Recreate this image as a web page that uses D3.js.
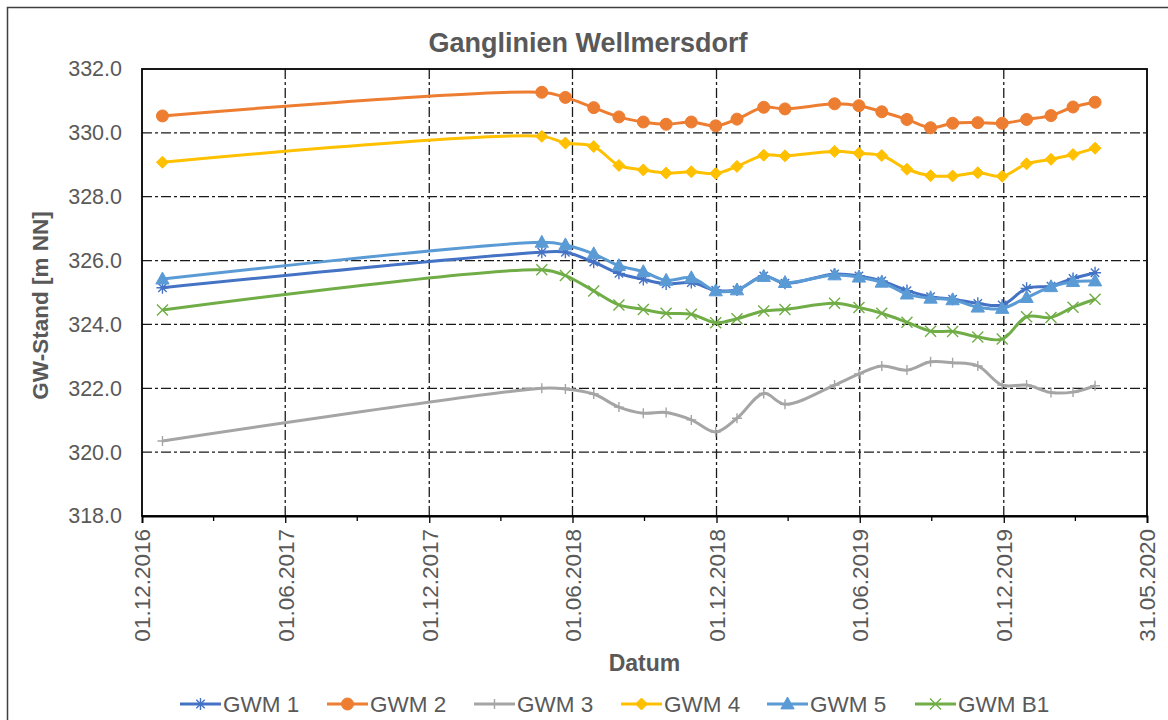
<!DOCTYPE html>
<html>
<head>
<meta charset="utf-8">
<script src="https://cdn.jsdelivr.net/npm/d3@7"></script>
<style>
  body { margin: 0; background: #fff; }
  text { font-family: "Liberation Sans", Arial, sans-serif; }
</style>
</head>
<body>
<div id="chart"></div>
<script>
// measurement dates
const dates = ["2016-12-27", "2018-04-23", "2018-05-23", "2018-06-28", "2018-07-30", "2018-08-30",
    "2018-09-28", "2018-10-30", "2018-11-30", "2018-12-27", "2019-01-30", "2019-02-26",
    "2019-04-30", "2019-05-31", "2019-06-29", "2019-07-31", "2019-08-30", "2019-09-27",
    "2019-10-29", "2019-11-29", "2019-12-30", "2020-01-30", "2020-02-27", "2020-03-26"];

const gwm1 = [325.15, 326.26, 326.26, 325.95, 325.60, 325.41, 325.27, 325.31, 325.07, 325.08, 325.52, 325.29,
    325.58, 325.52, 325.36, 325.06, 324.87, 324.79, 324.66, 324.61, 325.13, 325.20, 325.44, 325.62];
const gwm2 = [330.53, 331.27, 331.11, 330.79, 330.50, 330.34, 330.27, 330.34, 330.22, 330.43, 330.80, 330.75,
    330.91, 330.85, 330.66, 330.42, 330.16, 330.30, 330.32, 330.30, 330.42, 330.54, 330.81, 330.96];
const gwm3 = [320.35, 322.00, 321.98, 321.82, 321.41, 321.22, 321.24, 321.01, 320.63, 321.06, 321.84, 321.50,
    322.10, 322.45, 322.70, 322.57, 322.83, 322.80, 322.70, 322.10, 322.10, 321.87, 321.88, 322.08];
const gwm4 = [329.08, 329.89, 329.68, 329.57, 328.98, 328.84, 328.74, 328.78, 328.73, 328.95, 329.30, 329.28,
    329.42, 329.36, 329.29, 328.86, 328.66, 328.65, 328.75, 328.64, 329.03, 329.17, 329.32, 329.52];
const gwm5 = [325.42, 326.57, 326.49, 326.21, 325.84, 325.65, 325.38, 325.46, 325.05, 325.08, 325.50, 325.31,
    325.55, 325.48, 325.32, 324.95, 324.82, 324.77, 324.54, 324.50, 324.84, 325.18, 325.34, 325.36];
const gwmB1 = [324.45, 325.71, 325.53, 325.05, 324.61, 324.47, 324.35, 324.32, 324.05, 324.18, 324.42, 324.47,
    324.66, 324.53, 324.35, 324.07, 323.79, 323.78, 323.61, 323.54, 324.24, 324.22, 324.54, 324.79];

const seriesNames = ["GWM 1", "GWM 2", "GWM 3", "GWM 4", "GWM 5", "GWM B1"];
const seriesValues = [gwm1, gwm2, gwm3, gwm4, gwm5, gwmB1];
const seriesColors = ["#4472C4", "#ED7D31", "#A5A5A5", "#FFC000", "#5B9BD5", "#70AD47"];
const seriesMarkers = ["star", "circle", "plus", "diamond", "triangle", "cross"];

const xDomain = ["2016-12-01", "2020-05-31"];
const xTicks = ["2016-12-01", "2017-06-01", "2017-12-01", "2018-06-01", "2018-12-01", "2019-06-01", "2019-12-01", "2020-05-31"];
const yTicks = [318, 320, 322, 324, 326, 328, 330, 332];

const W = 1168, H = 720;
const margin = { top: 69, right: 21, bottom: 204, left: 142 };
const width = W - margin.left - margin.right;
const height = H - margin.top - margin.bottom;
const parse = d3.timeParse("%Y-%m-%d");
const fmt = d3.timeFormat("%d.%m.%Y");
const textColor = "#595959";

const svg = d3.select("#chart").append("svg")
    .attr("width", W)
    .attr("height", H);

// outer chart frame
svg.append("rect")
    .attr("x", 7.5).attr("y", 7.5)
    .attr("width", 1300).attr("height", 900)
    .attr("fill", "none")
    .attr("stroke", "#3f3f3f")
    .attr("stroke-width", 1.5);

const g = svg.append("g")
    .attr("transform", "translate(" + margin.left + "," + margin.top + ")");

const x = d3.scaleTime()
    .domain(xDomain.map(parse))
    .range([0, width]);

const y = d3.scaleLinear()
    .domain([318, 332])
    .range([height, 0]);

// grid lines
g.append("g").selectAll("line.hgrid")
    .data(yTicks.slice(1, -1))
    .enter().append("line")
    .attr("x1", 0).attr("x2", width)
    .attr("y1", d => y(d)).attr("y2", d => y(d))
    .attr("stroke", "#1a1a1a")
    .attr("stroke-width", 1.3)
    .attr("stroke-dasharray", "10,3,3,3");

g.append("g").selectAll("line.vgrid")
    .data(xTicks.slice(1, -1).map(parse))
    .enter().append("line")
    .attr("x1", d => x(d)).attr("x2", d => x(d))
    .attr("y1", 0).attr("y2", height)
    .attr("stroke", "#1a1a1a")
    .attr("stroke-width", 1.3)
    .attr("stroke-dasharray", "10,3,3,3");

// plot border
g.append("rect")
    .attr("x", 0).attr("y", 0)
    .attr("width", width).attr("height", height)
    .attr("fill", "none")
    .attr("stroke", "#000")
    .attr("stroke-width", 1.8);

// x axis with minor ticks
const xMajor = xTicks.map(parse);
const xMinor = d3.pairs(xMajor).map(p => new Date((+p[0] + +p[1]) / 2));

const xAxis = g.append("g")
    .attr("transform", "translate(0," + height + ")")
    .call(d3.axisBottom(x).tickValues(xMajor).tickSize(7).tickFormat(fmt));

xAxis.select(".domain").attr("stroke", "#000").attr("stroke-width", 1.8);
xAxis.selectAll(".tick line").attr("stroke", "#000").attr("stroke-width", 1.3);
xAxis.selectAll(".tick text")
    .attr("fill", textColor)
    .attr("font-size", 22.5)
    .attr("transform", "rotate(-90)")
    .attr("text-anchor", "end")
    .attr("x", -13)
    .attr("y", 0)
    .attr("dy", "0.35em");

xAxis.append("g").selectAll("line")
    .data(xMinor)
    .enter().append("line")
    .attr("x1", d => x(d)).attr("x2", d => x(d))
    .attr("y1", 0).attr("y2", 5)
    .attr("stroke", "#000")
    .attr("stroke-width", 1.3);

// y axis
const yAxis = g.append("g")
    .call(d3.axisLeft(y).tickValues(yTicks).tickSize(0).tickPadding(20).tickFormat(d3.format(".1f")));
yAxis.select(".domain").remove();
yAxis.selectAll(".tick text")
    .attr("fill", textColor)
    .attr("font-size", 21.5);

// titles
svg.append("text")
    .attr("x", 588).attr("y", 52)
    .attr("text-anchor", "middle")
    .attr("font-size", 27)
    .attr("font-weight", "bold")
    .attr("fill", textColor)
    .text("Ganglinien Wellmersdorf");

svg.append("text")
    .attr("transform", "translate(48," + (margin.top + height / 2 + 13) + ") rotate(-90)")
    .attr("text-anchor", "middle")
    .attr("font-size", 22.5)
    .attr("font-weight", "bold")
    .attr("fill", textColor)
    .text("GW-Stand [m NN]");

svg.append("text")
    .attr("x", margin.left + width / 2).attr("y", 671)
    .attr("text-anchor", "middle")
    .attr("font-size", 23)
    .attr("font-weight", "bold")
    .attr("fill", textColor)
    .text("Datum");

// markers
function markerPath(type, s) {
    switch (type) {
        case "star":
            return "M" + (-s) + ",0L" + s + ",0" +
                "M" + (-s * 0.7) + "," + (-s * 0.7) + "L" + (s * 0.7) + "," + (s * 0.7) +
                "M" + (-s * 0.7) + "," + (s * 0.7) + "L" + (s * 0.7) + "," + (-s * 0.7) +
                "M0," + (-s) + "L0," + s;
        case "plus":
            return "M" + (-s) + ",0L" + s + ",0M0," + (-s) + "L0," + s;
        case "cross":
            return "M" + (-s) + "," + (-s) + "L" + s + "," + s + "M" + (-s) + "," + s + "L" + s + "," + (-s);
        case "diamond":
            return "M0," + (-s) + "L" + s + ",0L0," + s + "L" + (-s) + ",0Z";
        case "triangle":
            return "M0," + (-s) + "L" + (s * 0.95) + "," + (s * 0.7) + "L" + (-s * 0.95) + "," + (s * 0.7) + "Z";
        default:
            return d3.symbol(d3.symbolCircle, Math.PI * s * s)();
    }
}
const markerSize = { star: 6, circle: 6, plus: 5, diamond: 6, triangle: 7, cross: 5.5 };
const openMarker = { star: true, plus: true, cross: true };

function drawMarker(sel, type, color) {
    sel.append("path")
        .attr("d", markerPath(type, markerSize[type]))
        .attr("fill", openMarker[type] ? "none" : color)
        .attr("stroke", color)
        .attr("stroke-width", openMarker[type] ? 1.4 : 1);
}

// smoothed lines (centripetal catmull-rom, no loops on the long gap)
const line = d3.line()
    .x(d => x(d.date))
    .y(d => y(d.value))
    .curve(d3.curveCatmullRom.alpha(0.5));

seriesNames.forEach(function(name, i) {
    const data = dates.map((d, j) => ({ date: parse(d), value: seriesValues[i][j] }));
    const sg = g.append("g").attr("class", "series");
    sg.append("path")
        .datum(data)
        .attr("d", line)
        .attr("fill", "none")
        .attr("stroke", seriesColors[i])
        .attr("stroke-width", 3)
        .attr("stroke-linejoin", "round");
    sg.selectAll("g.pt")
        .data(data)
        .enter().append("g")
        .attr("transform", d => "translate(" + x(d.date) + "," + y(d.value) + ")")
        .each(function() { drawMarker(d3.select(this), seriesMarkers[i], seriesColors[i]); });
});

// legend
const legendX = [180, 327, 474, 621, 767, 915];
const legend = svg.append("g").attr("transform", "translate(0,704)");
seriesNames.forEach(function(name, i) {
    const lg = legend.append("g").attr("transform", "translate(" + legendX[i] + ",0)");
    lg.append("line")
        .attr("x1", 0).attr("x2", 41)
        .attr("y1", 0).attr("y2", 0)
        .attr("stroke", seriesColors[i])
        .attr("stroke-width", 3);
    const mg = lg.append("g").attr("transform", "translate(20.5,0)");
    drawMarker(mg, seriesMarkers[i], seriesColors[i]);
    lg.append("text")
        .attr("x", 43).attr("y", 0)
        .attr("dy", "0.35em")
        .attr("font-size", 22.5)
        .attr("fill", textColor)
        .text(name);
});
</script>
</body>
</html>
